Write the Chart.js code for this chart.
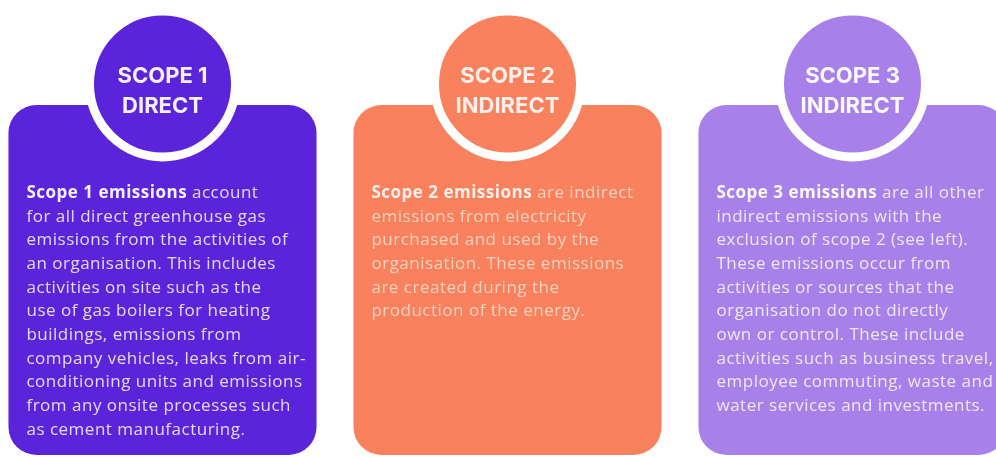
<!DOCTYPE html>
<html>
<head>
<meta charset="utf-8">
<script src="https://cdn.jsdelivr.net/npm/chart.js@4.4.0/dist/chart.umd.min.js"></script>
<style>
  html, body { margin: 0; padding: 0; background: #ffffff; overflow: hidden; }
  #wrap { position: relative; width: 996px; height: 457px; overflow: hidden; }
  #scopeChart { position: absolute; left: -10px; top: 0; }
</style>
</head>
<body>
<div id="wrap"><canvas id="scopeChart" width="1035" height="457"></canvas></div>
<script>
// Categories and texts
const scopes = ["SCOPE 1", "SCOPE 2", "SCOPE 3"];
const scopeTypes = ["DIRECT", "INDIRECT", "INDIRECT"];
const leadTerms = ["Scope 1 emissions", "Scope 2 emissions", "Scope 3 emissions"];
const descriptions = [
  [
    "account",
    "for all direct greenhouse gas",
    "emissions from the activities of",
    "an organisation. This includes",
    "activities on site such as the",
    "use of gas boilers for heating",
    "buildings, emissions from",
    "company vehicles, leaks from air-",
    "conditioning units and emissions",
    "from any onsite processes such",
    "as cement manufacturing.",
  ],
  [
    "are indirect",
    "emissions from electricity",
    "purchased and used by the",
    "organisation. These emissions",
    "are created during the",
    "production of the energy.",
  ],
  [
    "are all other",
    "indirect emissions with the",
    "exclusion of scope 2 (see left).",
    "These emissions occur from",
    "activities or sources that the",
    "organisation do not directly",
    "own or control. These include",
    "activities such as business travel,",
    "employee commuting, waste and",
    "water services and investments.",
  ],
];
// one card and one badge per scope
const cards = [1, 1, 1];
const badges = [1.06, 1.06, 1.06];

// Styles
const fillColors = ["#5b24da", "#f9815d", "#a781e9"];
const leadColors = ["#f4f0fc", "#fcefe9", "#fbf8fe"];
const bodyColors = ["#e2d9f7", "#fcd2bf", "#efe6fc"];

const textPlugin = {
  id: "scopeText",
  afterDatasetsDraw(chart) {
    const ctx = chart.ctx;
    const barEls = chart.getDatasetMeta(0).data;
    const badgeEls = chart.getDatasetMeta(1).data;
    ctx.save();
    ctx.textBaseline = "middle";
    badgeEls.forEach((pt, i) => {
      ctx.textAlign = "center";
      ctx.fillStyle = leadColors[i];
      ctx.font = "700 22px Inter";
      ctx.fillText(scopes[i], pt.x, pt.y - 8);
      ctx.fillText(scopeTypes[i], pt.x, pt.y + 22);
    });
    ctx.letterSpacing = "0.5px";
    barEls.forEach((bar, i) => {
      const left = bar.x - bar.width / 2 + 18;
      const top = bar.y + 88;
      const lineHeight = 23.7;
      ctx.textAlign = "left";
      descriptions[i].forEach((line, j) => {
        const y = top + j * lineHeight;
        let x = left;
        if (j === 0) {
          ctx.font = "700 17px 'Open Sans'";
          ctx.fillStyle = leadColors[i];
          ctx.fillText(leadTerms[i], x, y);
          x += ctx.measureText(leadTerms[i] + " ").width;
        }
        ctx.font = "400 17px 'Open Sans'";
        ctx.fillStyle = bodyColors[i];
        ctx.fillText(line, x, y);
      });
    });
    ctx.restore();
  },
};

const scopeChart = new Chart(document.getElementById("scopeChart").getContext("2d"), {
  type: "bar",
  data: {
    labels: scopes,
    datasets: [
      {
        label: "Cards",
        data: cards,
        backgroundColor: fillColors,
        borderRadius: 28,
        borderSkipped: false,
        barPercentage: 1,
        categoryPercentage: 0.893,
        order: 2,
      },
      {
        type: "line",
        label: "Badges",
        data: badges,
        showLine: false,
        pointRadius: 73,
        pointBorderWidth: 9,
        pointBackgroundColor: fillColors,
        pointBorderColor: "#ffffff",
        clip: false,
        order: 1,
      },
    ],
  },
  options: {
    responsive: false,
    animation: false,
    events: [],
    layout: {
      autoPadding: false,
      padding: { top: 0, bottom: 2, left: 0, right: 0 },
    },
    scales: {
      x: { display: false },
      y: { display: false, min: 0, max: 1.3 },
    },
    plugins: {
      legend: { display: false },
      tooltip: { enabled: false },
    },
  },
  plugins: [textPlugin],
});
</script>
</body>
</html>
